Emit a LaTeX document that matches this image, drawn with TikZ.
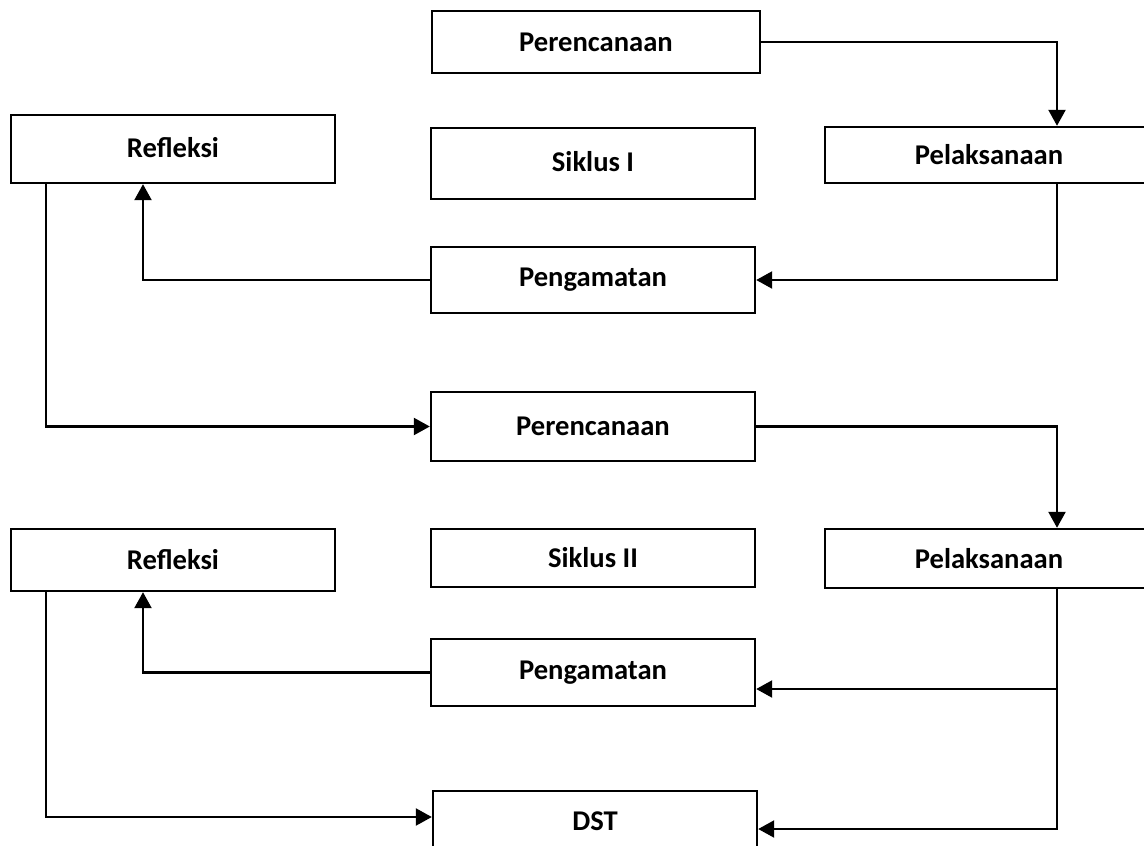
\documentclass[tikz,border=0pt]{standalone}
\usepackage{fontspec}
\setmainfont{Carlito}
\usetikzlibrary{arrows.meta,calc}
\begin{document}
\begin{tikzpicture}[x=0.5pt,y=-0.5pt,
  box/.style={draw=black, line width=1.2pt, rectangle, inner sep=0pt, fill=white,
    font=\fontsize{14.3pt}{17pt}\selectfont\bfseries},
  wide/.style={minimum width=162pt},
  link/.style={line width=1.15pt, -{Triangle[length=8pt,width=8.5pt]}}]
\useasboundingbox (0,0) rectangle (1144,845);
\clip (0,0) rectangle (1144,845);
% nodes
\node[box, minimum width=164pt, minimum height=31pt] (per1) at (596,42) {Perencanaan};
\node[box, wide, minimum height=34pt] (ref1) at (173,149) {\raisebox{2pt}{Refleksi}};
\node[box, wide, minimum height=35.5pt] (sik1) at (593,163.5) {\raisebox{2pt}{Siklus I}};
\node[box, minimum width=164pt, minimum height=28pt] (pel1) at (989,155) {Pelaksanaan};
\node[box, wide, minimum height=33pt] (pen1) at (593,280) {Pengamatan};
\node[box, wide, minimum height=34.5pt] (per2) at (593,426.5) {Perencanaan};
\node[box, wide, minimum height=31pt] (ref2) at (173,560) {Refleksi};
\node[box, wide, minimum height=29pt] (sik2) at (593,558) {Siklus II};
\node[box, minimum width=164pt, minimum height=29.5pt] (pel2) at (989,558.5) {Pelaksanaan};
\node[box, wide, minimum height=33.5pt] (pen2) at (593,672.5) {Pengamatan};
\node[box, wide, minimum height=30pt] (dst) at (595,821) {DST};
% helper coordinates
\coordinate (rx) at (1057,0);
\coordinate (lx) at (143,0);
\coordinate (ox) at (46,0);
\coordinate (pa) at ($(pen2.east)+(0,16.5)$);
\coordinate (da) at ($(dst.east)+(0,8)$);
\coordinate (db) at ($(dst.west)+(0,-4)$);
% connectors
\draw[link] (per1.east) -| (rx |- pel1.north);
\draw[link] (rx |- pel1.south) |- (pen1.east);
\draw[link] (pen1.west) -| (lx |- ref1.south);
\draw[link] (ox |- ref1.south) |- (per2.west);
\draw[link] (per2.east) -| (rx |- pel2.north);
\draw[link] (rx |- pel2.south) |- (da);
\draw[link] (rx |- pa) -- (pa);
\draw[link] (pen2.west) -| (lx |- ref2.south);
\draw[link] (ox |- ref2.south) |- (db);
\end{tikzpicture}
\end{document}
